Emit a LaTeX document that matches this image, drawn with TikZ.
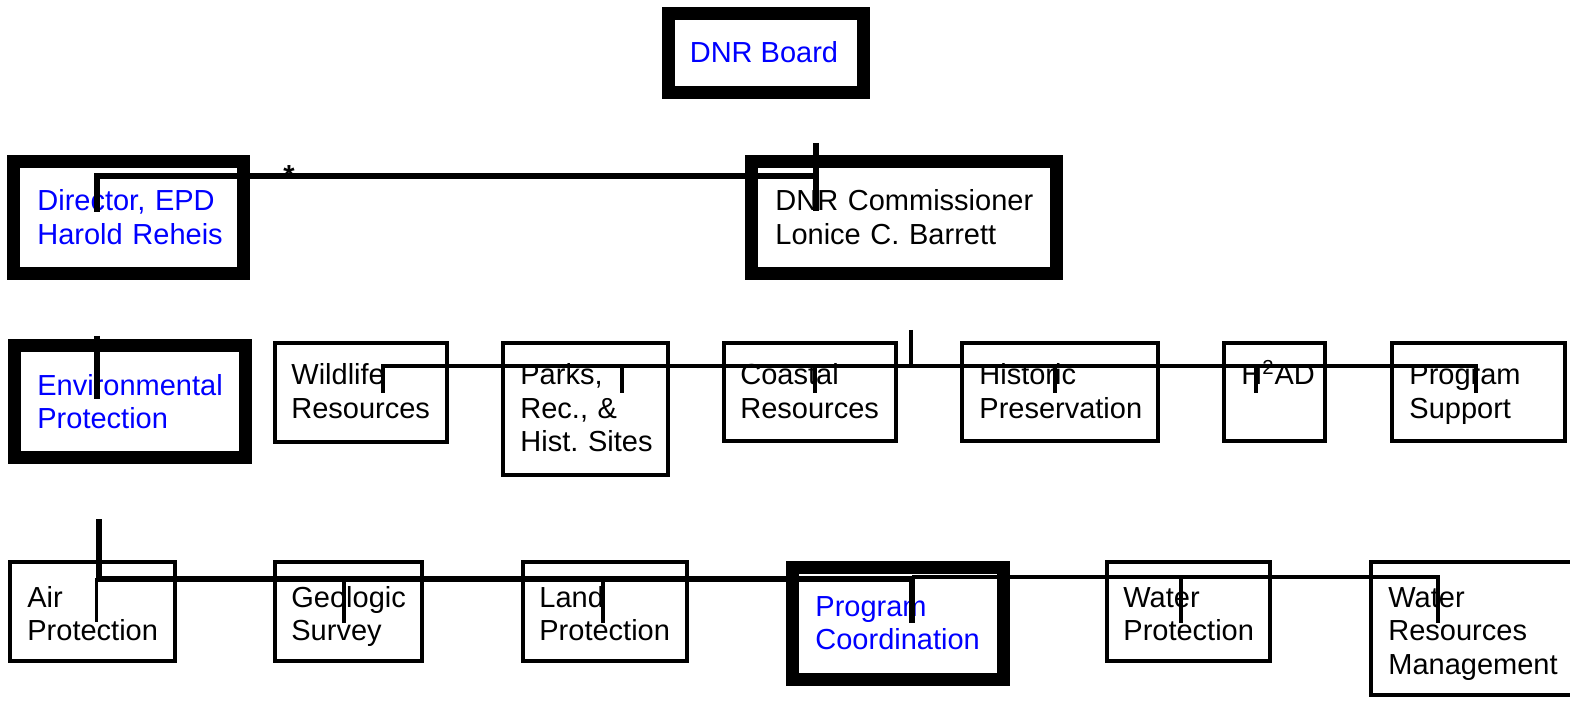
\documentclass[tikz,border=0pt]{standalone}
\usepackage{fontspec}
\setmainfont{Liberation Sans}
\usetikzlibrary{fit}
\frenchspacing
\begin{document}
\begin{tikzpicture}[x=0.5pt,y=-0.5pt,
  thinbox/.style={draw, line width=1.75pt, inner sep=0pt},
  thickbox/.style={draw, line width=6.5pt, inner sep=0pt},
  lbl/.style={anchor=base west, inner sep=0pt, text width=150pt, align=left,
    font=\fontsize{14.5pt}{16.75pt}\selectfont},
  bluelbl/.style={lbl, text=blue},
  conn/.style={line width=3pt},
  connthin/.style={line width=1.75pt}]
\useasboundingbox (0,0) rectangle (1570,711);

% ---------- boxes ----------
\node[thickbox, fit={(668.5,13.5) (863.5,92.5)}] (board) {};
\node[thickbox, fit={(13.5,161.5) (243.5,273.5)}] (dir) {};
\node[thickbox, fit={(751.5,161.5) (1056.5,273.5)}] (comm) {};
\node[thickbox, fit={(14.5,345.5) (245.5,457.5)}] (env) {};
\node[thinbox, fit={(275,343) (447,442)}] (wild) {};
\node[thinbox, fit={(503,343) (668,475)}] (parks) {};
\node[thinbox, fit={(724,343) (896,441)}] (coast) {};
\node[thinbox, fit={(962,343) (1158,441)}] (hist) {};
\node[thinbox, fit={(1224,343) (1325,441)}] (hpad) {};
\node[thinbox, fit={(1392,343) (1565,441)}] (psup) {};
\node[thinbox, fit={(10,562) (175,661)}] (air) {};
\node[thinbox, fit={(275,562) (422,661)}] (geo) {};
\node[thinbox, fit={(523,562) (687,661)}] (land) {};
\node[thickbox, fit={(792.5,567.5) (1003.5,679.5)}] (pcoord) {};
\node[thinbox, fit={(1107,562) (1270,661)}] (wprot) {};
\node[thinbox, fit={(1371,562) (1590,695)}] (wrm) {};

% ---------- texts ----------
\node[anchor=base, inner sep=0pt, text=blue, font=\fontsize{14.5pt}{16.75pt}\selectfont] (boardT) at (764,63) {DNR Board};
\node[bluelbl] (dirT) at (37,211) {Director, EPD\\Harold Reheis};
\node[lbl] (commT) at (775,211) {DNR Commissioner\\Lonice C. Barrett};
\node[bluelbl] (envT) at (37,395) {Environmental\\Protection};
\node[lbl] (wildT) at (291,385) {Wildlife\\Resources};
\node[lbl] (parksT) at (520,385) {Parks,\\Rec., \&\\Hist. Sites};
\node[lbl] (coastT) at (740,385) {Coastal\\Resources};
\node[lbl] (histT) at (979,385) {Historic\\Preservation};
\node[lbl] (hpadT) at (1241,385) {H\textsuperscript{2}AD};
\node[lbl] (psupT) at (1409,385) {Program\\Support};
\node[lbl] (airT) at (27,607) {Air\\Protection};
\node[lbl] (geoT) at (291,607) {Geologic\\Survey};
\node[lbl] (landT) at (539,607) {Land\\Protection};
\node[bluelbl] (pcoordT) at (815,616) {Program\\Coordination};
\node[lbl] (wprotT) at (1123,607) {Water\\Protection};
\node[lbl] (wrmT) at (1388,607) {Water\\Resources\\Management};
\node[anchor=base, inner sep=0pt, font=\fontsize{14.5pt}{16.75pt}\selectfont\bfseries] (star) at (289,186) {*};

% ---------- connector points ----------
\coordinate (d1) at (97,212);
\coordinate (d2) at (97,176.5);
\coordinate (c1) at (815.5,176.5);
\coordinate (c0) at (815.5,143);
\coordinate (c2) at (815.5,211);

\coordinate (e0) at (97,336);
\coordinate (e1) at (97,399);

\coordinate (r2top) at (911,330);
\coordinate (r2mid) at (911,366);
\coordinate (w1) at (383,393);  \coordinate (w2) at (383,366);
\coordinate (p1) at (622,393);  \coordinate (p2) at (622,366);
\coordinate (k1) at (815,393);  \coordinate (k2) at (815,366);
\coordinate (h1) at (1055,393); \coordinate (h2) at (1055,366);
\coordinate (q1) at (1256,393); \coordinate (q2) at (1256,366);
\coordinate (s1) at (1476,393); \coordinate (s2) at (1476,366);

\coordinate (a0) at (98.5,519);
\coordinate (a1) at (98.5,579);
\coordinate (a2) at (96.5,578);
\coordinate (a3) at (96.5,622);
\coordinate (m1) at (912,579);
\coordinate (m2) at (912,577);
\coordinate (m3) at (912,623);
\coordinate (g1) at (344,577); \coordinate (g2) at (344,623);
\coordinate (l1) at (603,577); \coordinate (l2) at (603,623);
\coordinate (v1) at (1181,577); \coordinate (v2) at (1181,623);
\coordinate (x1) at (1438,577); \coordinate (x2) at (1438,623);

% ---------- connectors ----------
\draw[conn] (d1) -- (d2) -- (c1);
\draw[conn] (c0) -- (c2);
\draw[conn] (e0) -- (e1);

\draw[connthin] (w1) -- (w2) -- (s2) -- (s1);
\draw[connthin] (r2top) -- (r2mid);
\draw[connthin] (p2) -- (p1);
\draw[connthin] (k2) -- (k1);
\draw[connthin] (h2) -- (h1);
\draw[connthin] (q2) -- (q1);

\draw[conn] (a0) -- (a1) -- (m1);
\draw[connthin] (a2) -- (a3);
\draw[connthin] (m2) -- (x1) -- (x2);
\draw[conn] (m2) -- (m3);
\draw[connthin] (g1) -- (g2);
\draw[connthin] (l1) -- (l2);
\draw[connthin] (v1) -- (v2);
\end{tikzpicture}
\end{document}
